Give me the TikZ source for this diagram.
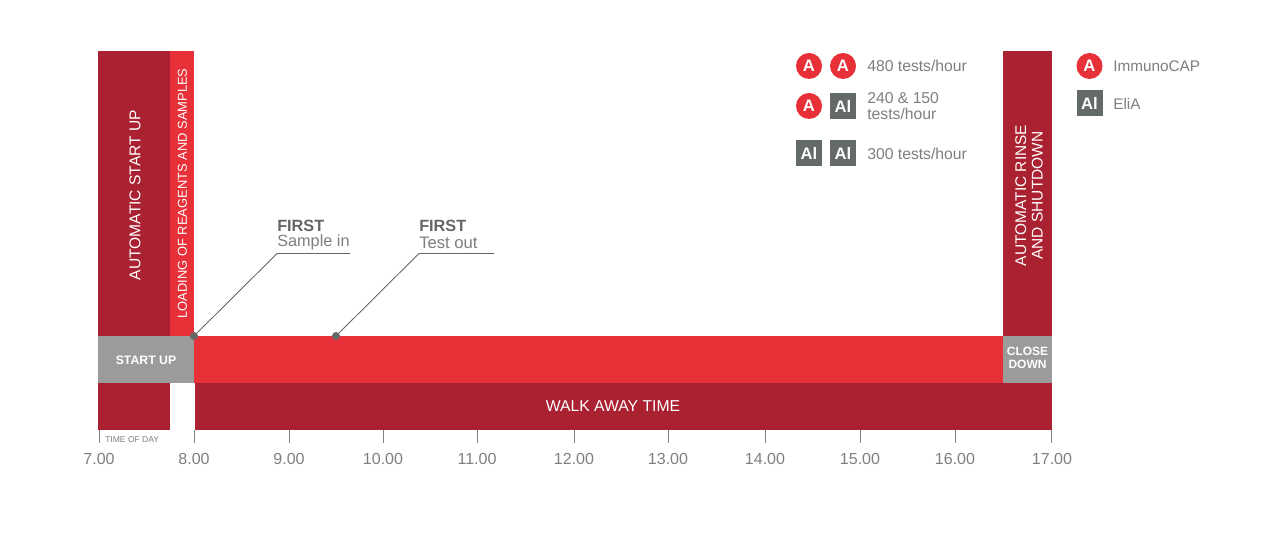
\documentclass[tikz,border=0pt]{standalone}
\usepackage{fontspec}
\setmainfont{Liberation Sans}
\definecolor{darkred}{HTML}{AA2131}
\definecolor{brightred}{HTML}{E73038}
\definecolor{midgrey}{HTML}{9B9B9B}
\definecolor{slategrey}{HTML}{636A67}
\definecolor{txtgrey}{HTML}{7F7F7F}
\definecolor{boldgrey}{HTML}{666666}
\newcommand{\fs}[1]{\fontsize{#1}{#1}\selectfont}
\tikzset{
 x=0.75pt,y=-0.75pt,
 vlabel/.style={rotate=90,text=white,align=center,inner sep=0pt},
 tick/.style={draw=txtgrey,line width=0.65pt},
 hour/.style={text=txtgrey,inner sep=0pt,font=\fs{12}},
 leader/.style={draw=boldgrey,line width=0.65pt},
 legend/.style={text=txtgrey,inner sep=0pt,anchor=west,align=left,font=\fs{11.8}},
 badgeA/.style={circle,fill=brightred,text=white,inner sep=0pt,minimum size=19.5pt,font=\fs{12.5}\bfseries},
 badgeAl/.style={rectangle,fill=slategrey,text=white,inner sep=0pt,minimum size=19.5pt,font=\fs{12.5}\bfseries},
 pin/.style={circle,fill=boldgrey,inner sep=0pt,minimum size=6pt},
}
\begin{document}
\begin{tikzpicture}
\useasboundingbox (0,0) rectangle (1280,555);
\fill[white] (0,0) rectangle (1280,555);
% bars
\fill[darkred] (98,51) rectangle (170,336);
\fill[brightred] (170,51) rectangle (194,336);
\fill[midgrey] (98,336) rectangle (194,383);
\fill[brightred] (194,336) rectangle (1003,383);
\fill[darkred] (98,383) rectangle (170,430);
\fill[darkred] (194.5,383) rectangle (1052,430);
\fill[darkred] (1003,51) rectangle (1052,336);
\fill[midgrey] (1003,336) rectangle (1052,383);
% bar labels
\node[vlabel,font=\fs{11.7}] (startv) at (135,195) {AUTOMATIC START UP};
\node[vlabel,font=\fs{9.7}] (loading) at (182.5,193.5) {LOADING OF REAGENTS AND SAMPLES};
\node[vlabel,font=\fs{11.6}] (rinse) at (1029,195.5) {AUTOMATIC RINSE\\[0.8pt]AND SHUTDOWN};
\node[text=white,inner sep=0pt,font=\fs{9.2}\bfseries] (startup) at (146,360) {START UP};
\node[text=white,inner sep=0pt,align=center,font=\fs{9}\bfseries] (close) at (1027.5,358) {CLOSE\\[1.2pt]DOWN};
\node[text=white,inner sep=0pt,font=\fs{11.8}] (walk) at (613,406) {WALK AWAY TIME};
% axis
\foreach \n/\x/\lx in {7/99/99,8/194/194,9/289/289,10/383/383,11/477/477,12/574/574,13/668/668,14/765/765,15/860/860,16/955/955,17/1051/1052}{
  \coordinate (t\n a) at (\x,430);
  \coordinate (t\n b) at (\x,443);
  \draw[tick] (t\n a) -- (t\n b);
  \node[hour] (h\n) at (\lx,459) {\n.00};
}
\node[text=txtgrey,inner sep=0pt,anchor=west,font=\fs{6.4}] (tod) at (105,440) {TIME OF DAY};
% callouts
\node[pin] (p1) at (194,336) {};
\node[pin] (p2) at (336,336) {};
\coordinate (k1) at (277,253.5);
\coordinate (e1) at (350,253.5);
\coordinate (k2) at (419,253.5);
\coordinate (e2) at (494,253.5);
\draw[leader] (p1.center) -- (k1) -- (e1);
\draw[leader] (p2.center) -- (k2) -- (e2);
\node[anchor=west,text=boldgrey,inner sep=0pt,font=\fs{12.2}\bfseries] (f1) at (277,225.5) {FIRST};
\node[anchor=west,text=txtgrey,inner sep=0pt,font=\fs{12.2}] (s1) at (277,242.5) {Sample in};
\node[anchor=west,text=boldgrey,inner sep=0pt,font=\fs{12.2}\bfseries] (f2) at (419,226) {FIRST};
\node[anchor=west,text=txtgrey,inner sep=0pt,font=\fs{12.5}] (s2) at (419,242.5) {Test out};
% legend
\node[badgeA] (a1) at (809,66) {A};
\node[badgeA] (a2) at (843,66) {A};
\node[legend] (l1) at (867,66) {480 tests/hour};
\node[badgeA] (a3) at (809,106) {A};
\node[badgeAl] (b1) at (843,106) {Al};
\node[legend] (l2) at (867,106) {240 \& 150\\[0.4pt]tests/hour};
\node[badgeAl] (b2) at (809,153.5) {Al};
\node[badgeAl] (b3) at (843,153.5) {Al};
\node[legend] (l3) at (867,154) {300 tests/hour};
\node[badgeA] (a4) at (1089.5,66) {A};
\node[badgeAl] (b4) at (1089.5,103) {Al};
\node[legend,font=\fs{11.5}] (l4) at (1113,66) {ImmunoCAP};
\node[legend,font=\fs{11.5}] (l5) at (1113,103.5) {EliA};
\end{tikzpicture}
\end{document}
